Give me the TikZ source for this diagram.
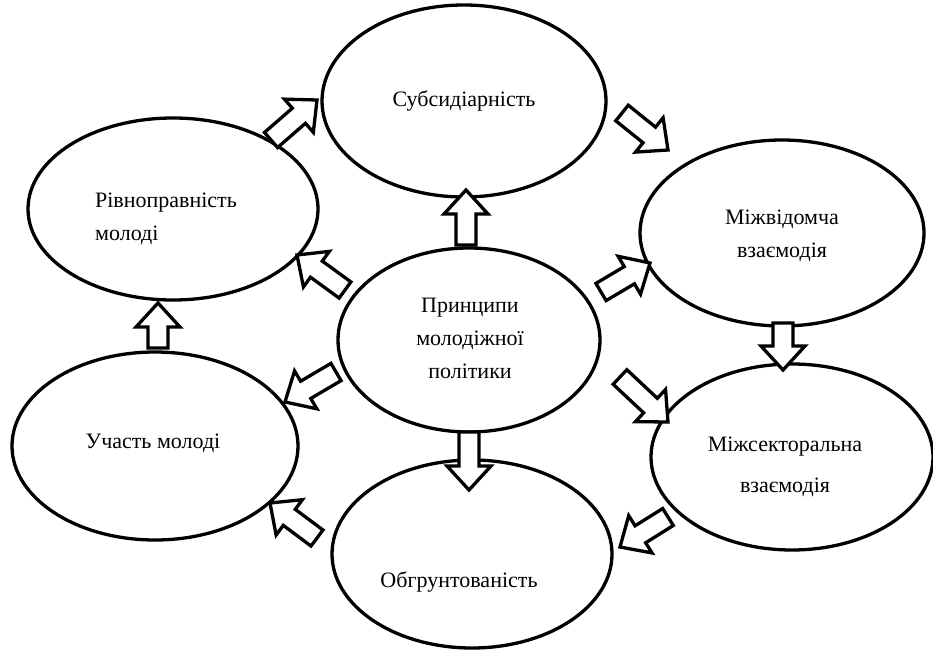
\documentclass[tikz,border=0pt]{standalone}
\usepackage{fontspec}
\setmainfont{Liberation Serif}
\usetikzlibrary{shapes.geometric,calc}
\tikzset{
  ell/.style={draw, ellipse, line width=3.3pt, inner sep=0pt},
  lbl/.style={font=\fontsize{22}{33}\selectfont, align=center, inner sep=0pt},
  barrow/.style={draw, line width=3.3pt, fill=white, line join=miter}
}
\newcommand\blockarrow[2]{%
  \coordinate (hb) at ($(#2)!24pt!(#1)$);
  \draw[barrow] ($(#1)!10pt!90:(#2)$) -- ($(hb)!10pt!90:(#2)$) -- ($(hb)!22pt!90:(#2)$) -- (#2)
    -- ($(hb)!22pt!-90:(#2)$) -- ($(hb)!10pt!-90:(#2)$) -- ($(#1)!10pt!-90:(#2)$) -- cycle;
}
\begin{document}
\begin{tikzpicture}[x=1pt,y=-1pt]
\useasboundingbox[fill=white] (0,0) rectangle (933,663);
% ellipses
\node[ell, minimum width=284pt, minimum height=192pt] (sub) at (464,101) {};
\node[ell, minimum width=290pt, minimum height=182pt] (riv) at (173,209) {};
\node[ell, minimum width=284pt, minimum height=186pt] (mizhv) at (782,233) {};
\node[ell, minimum width=262pt, minimum height=184pt] (prin) at (469,340) {};
\node[ell, minimum width=286pt, minimum height=188pt] (uch) at (155,446) {};
\node[ell, minimum width=282pt, minimum height=186pt] (mizhs) at (792,457) {};
\node[ell, minimum width=280pt, minimum height=188pt] (obg) at (472,554) {};
% texts
\node[lbl, align=left] (triv) at (166,219) {Рівноправність\\молоді};
\node[lbl] (tsub) at (464,101) {Субсидіарність};
\node[lbl] (tmizhv) at (782,236) {Міжвідомча\\взаємодія};
\node[lbl] (tprin) at (470,338) {Принципи\\молодіжної\\політики};
\node[lbl] (tuch) at (153,443) {Участь молоді};
\node[lbl, font=\fontsize{22}{41}\selectfont] (tmizhs) at (785,467) {Міжсекторальна\\взаємодія};
\node[lbl] (tobg) at (459,582) {Обгрунтованість};
% arrow end points
\coordinate (a1t) at (466,245); \coordinate (a1h) at (466,190);
\coordinate (a2t) at (158,348); \coordinate (a2h) at (158,303);
\coordinate (a3t) at (783,323); \coordinate (a3h) at (783,370);
\coordinate (a4t) at (469,432); \coordinate (a4h) at (469,490);
\coordinate (a5t) at (271,140); \coordinate (a5h) at (317,100);
\coordinate (a6t) at (622,113); \coordinate (a6h) at (668,150);
\coordinate (a7t) at (601,292); \coordinate (a7h) at (650,263);
\coordinate (a8t) at (620,377); \coordinate (a8h) at (668,422);
\coordinate (a9t) at (668,517); \coordinate (a9h) at (620,547);
\coordinate (a10t) at (317,538); \coordinate (a10h) at (270,503);
\coordinate (a11t) at (336,372); \coordinate (a11h) at (285,402);
\coordinate (a12t) at (345,290); \coordinate (a12h) at (297,255);
\blockarrow{a1t}{a1h}
\blockarrow{a2t}{a2h}
\blockarrow{a3t}{a3h}
\blockarrow{a4t}{a4h}
\blockarrow{a5t}{a5h}
\blockarrow{a6t}{a6h}
\blockarrow{a7t}{a7h}
\blockarrow{a8t}{a8h}
\blockarrow{a9t}{a9h}
\blockarrow{a10t}{a10h}
\blockarrow{a11t}{a11h}
\blockarrow{a12t}{a12h}
\end{tikzpicture}
\end{document}
